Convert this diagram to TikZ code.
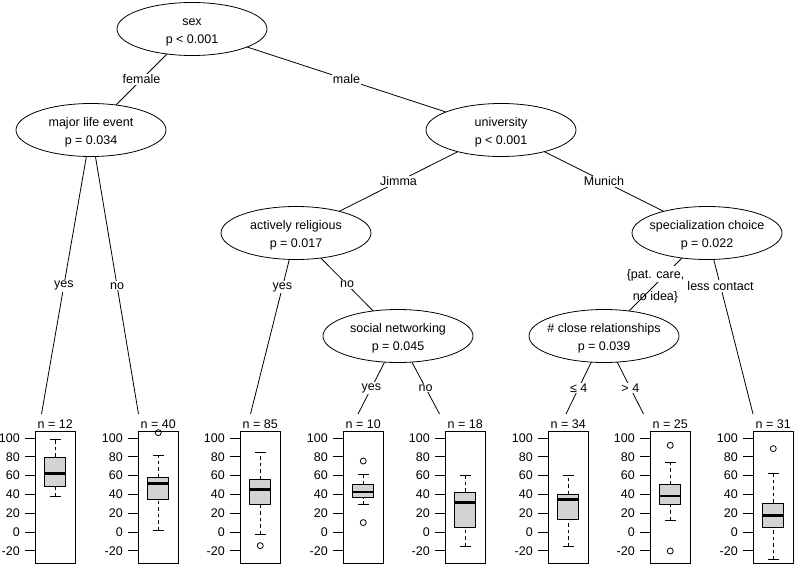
\documentclass[tikz,border=0pt]{standalone}
\usepackage{fontspec}
\setmainfont{Liberation Sans}
\usepackage{tikz}
\usetikzlibrary{shapes.geometric}
\pgfdeclarelayer{background}
\pgfsetlayers{background,main}
\definecolor{boxgray}{HTML}{D3D3D3}

\tikzset{
  split/.style={ellipse, draw, fill=white, line width=0.8pt, minimum width=150pt, minimum height=53pt, inner sep=0pt, align=center},
  edge/.style={line width=0.8pt},
  elab/.style={fill=white, inner sep=1pt},
  nlab/.style={anchor=base, inner sep=0pt},
  ticklab/.style={anchor=east, inner sep=0pt},
  frame/.style={line width=0.8pt},
  whisk/.style={line width=0.8pt, dash pattern=on 3.5pt off 3pt},
  boxbody/.style={draw=black, fill=boxgray, line width=0.8pt},
  medline/.style={line width=2.6pt},
  outpt/.style={line width=0.8pt}
}

% value -> vertical position inside a leaf panel
\newcommand{\yv}[1]{532-0.94*(#1)}
\newcommand{\twoline}[2]{\rule{0pt}{14pt}\makebox[0pt]{#1}\\\makebox[0pt]{#2}}
% #1 name, #2 frame left, #3 lower whisker, #4 lower hinge, #5 median, #6 upper hinge, #7 upper whisker, #8 n
\newcommand{\leafbox}[8]{%
  \pgfmathsetmacro{\cx}{#2+20.25}
  \node[nlab] (#1n) at (\cx,428) {n = #8};
  \draw[frame] (#2,431) rectangle ({#2+40.5},563);
  \foreach \v [count=\k] in {-20,0,...,100} {
    \draw[frame] ({#2-10},{\yv{\v}}) -- (#2,{\yv{\v}});
    \node[ticklab] (#1tick\k) at ({#2-15},{\yv{\v}}) {\v};
  }
  \draw[whisk] (\cx,{\yv{#3}}) -- (\cx,{\yv{#4}});
  \draw[whisk] (\cx,{\yv{#6}}) -- (\cx,{\yv{#7}});
  \draw[frame] ({\cx-5.5},{\yv{#3}}) -- ({\cx+5.5},{\yv{#3}});
  \draw[frame] ({\cx-5.5},{\yv{#7}}) -- ({\cx+5.5},{\yv{#7}});
  \draw[boxbody] ({\cx-10.5},{\yv{#4}}) rectangle ({\cx+10.5},{\yv{#6}});
  \draw[medline] ({\cx-10.5},{\yv{#5}}) -- ({\cx+10.5},{\yv{#5}});
}
\newcommand{\outl}[2]{\draw[outpt] ({#1+20.25},{\yv{#2}}) circle[radius=3pt];}

\begin{document}
\begin{tikzpicture}[x=1pt,y=-1pt,every node/.style={font=\fontsize{12.5}{18.5}\selectfont}]
\useasboundingbox (0,0) rectangle (794,564);

% inner nodes
\node[split] (sex) at (192,29) {\twoline{sex}{p < 0.001}};
\node[split] (life) at (91,130) {\twoline{major life event}{p = 0.034}};
\node[split] (univ) at (501,130) {\twoline{university}{p < 0.001}};
\node[split] (relig) at (296,233) {\twoline{actively religious}{p = 0.017}};
\node[split] (spec) at (707,233) {\twoline{specialization choice}{p = 0.022}};
\node[split] (social) at (398,336) {\twoline{social networking}{p = 0.045}};
\node[split] (close) at (604,336) {\twoline{\# close relationships}{p = 0.039}};

% tops of the leaves
\coordinate (t1) at (41.5,414);
\coordinate (t2) at (138.5,414);
\coordinate (t3) at (250.5,414);
\coordinate (t4) at (358,414);
\coordinate (t5) at (439.5,414);
\coordinate (t6) at (566,414);
\coordinate (t7) at (643.5,414);
\coordinate (t8) at (753,414);

\begin{pgfonlayer}{background}
\draw[edge] (sex.center) -- (life.center) node[midway,elab] (lfemale) {female};
\draw[edge] (sex.center) -- (univ.center) node[midway,elab] (lmale) {male};
\draw[edge] (life.center) -- (t1) node[pos=0.549,elab] (lyes1) {yes};
\draw[edge] (life.center) -- (t2) node[pos=0.549,elab] (lno1) {no};
\draw[edge] (univ.center) -- (relig.center) node[midway,elab] (ljimma) {Jimma};
\draw[edge] (univ.center) -- (spec.center) node[midway,elab] (lmunich) {Munich};
\draw[edge] (relig.center) -- (t3) node[pos=0.298,elab] (lyes2) {yes};
\draw[edge] (relig.center) -- (social.center) node[midway,elab] (lno2) {no};
\draw[edge] (spec.center) -- (close.center) node[midway,elab,yshift=10.5pt,inner ysep=3.5pt,align=center] (lcare) {\{pat. care,\\[-18.5pt]\raisebox{-22pt}[0pt][0pt]{no idea\}}};
\draw[edge] (spec.center) -- (t8) node[pos=0.293,elab] (lless) {less contact};
\draw[edge] (social.center) -- (t4) node[pos=0.667,elab] (lyes3) {yes};
\draw[edge] (social.center) -- (t5) node[pos=0.667,elab] (lno3) {no};
\draw[edge] (close.center) -- (t6) node[pos=0.667,elab] (lle) {≤ 4};
\draw[edge] (close.center) -- (t7) node[pos=0.667,elab] (lgt) {> 4};
\end{pgfonlayer}

% leaves
\leafbox{p1}{35}{38.3}{49}{62}{79.8}{98.5}{12}
\leafbox{p2}{138}{1.8}{34.4}{51.4}{58.5}{81.6}{40}
\outl{138}{105.7}
\leafbox{p3}{240}{-2.5}{29}{45}{56}{85}{85}
\outl{240}{-14.5}
\leafbox{p4}{343}{29}{36.5}{42.6}{50.4}{61.3}{10}
\outl{343}{75.5}
\outl{343}{10}
\leafbox{p5}{445}{-15}{5.3}{31.2}{42.6}{60.3}{18}
\leafbox{p6}{548}{-15}{13.8}{34.4}{40.4}{60.3}{34}
\leafbox{p7}{650}{12.4}{29.4}{38.3}{50.4}{73.8}{25}
\outl{650}{92.2}
\outl{650}{-20.2}
\leafbox{p8}{753}{-29.4}{5}{17.7}{30.9}{62.8}{31}
\outl{753}{88.7}
\end{tikzpicture}
\end{document}
